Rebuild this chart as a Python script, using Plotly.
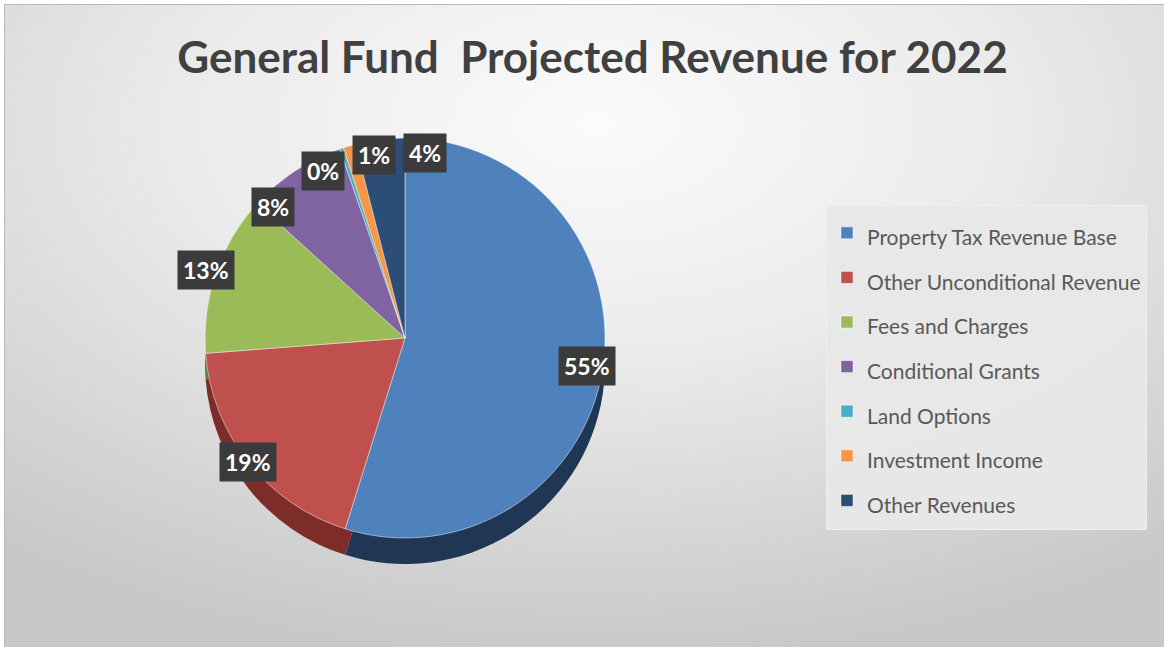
import base64
import math
import plotly.graph_objects as go

# ---- data ----
categories = [
    "Property Tax Revenue Base",
    "Other Unconditional Revenue",
    "Fees and Charges",
    "Conditional Grants",
    "Land Options",
    "Investment Income",
    "Other Revenues",
]
values = [55, 19, 13, 8, 0.3, 1, 4]
title_text = "General Fund  Projected Revenue for 2022"

# ---- style ----
W, H = 1164, 647
top_colors = ["#4f81bd", "#c0504d", "#9bbb59", "#8064a2", "#4bacc6", "#f79646", "#2c4d75"]
side_colors = ["#1f3655", "#7e2c2a", "#627a35", "#4e3a68", "#2a7288", "#a85f26", "#17273d"]
FONT = "Lato"
cx, cy, r = 405, 338, 200          # pie centre / radius in pixels
depth = 26                          # fake 3-D extrusion in pixels

def dom(cx_, cy_):
    return dict(x=[(cx_ - r) / W, (cx_ + r) / W],
                y=[1 - (cy_ + r) / H, 1 - (cy_ - r) / H])

# background gradient + frame as an SVG image
svg = f"""<svg xmlns='http://www.w3.org/2000/svg' width='{W}' height='{H}' viewBox='0 0 {W} {H}' preserveAspectRatio='none'>
<defs><radialGradient id='g' cx='50%' cy='18%' r='80%'>
<stop offset='0' stop-color='#fbfbfb'/><stop offset='0.45' stop-color='#eaeaea'/>
<stop offset='1' stop-color='#c8c8c8'/></radialGradient></defs>
<rect width='{W}' height='{H}' fill='#ffffff'/>
<rect x='4.5' y='4.5' width='{W+20}' height='{H+20}' fill='url(#g)' stroke='#b8b8b8' stroke-width='1'/>
</svg>"""
bg_uri = "data:image/svg+xml;base64," + base64.b64encode(svg.encode()).decode()

fig = go.Figure()
# side (extrusion) pie
fig.add_trace(go.Pie(
    labels=categories, values=values, sort=False, direction="clockwise", rotation=0,
    domain=dom(cx, cy + depth), marker=dict(colors=side_colors, line=dict(width=0)),
    textinfo="none", hoverinfo="skip", showlegend=False,
))
# top pie
fig.add_trace(go.Pie(
    labels=[f"<span style='font-size:21px'>{c}</span>" for c in categories],
    values=values, sort=False, direction="clockwise", rotation=0,
    domain=dom(cx, cy), marker=dict(colors=top_colors, line=dict(color="rgba(255,255,255,0.6)", width=0.8)),
    textinfo="none", hovertemplate="%{label}: %{percent}<extra></extra>", showlegend=True,
))

# ---- data labels (dark boxes) computed from slice angles ----
total = sum(values)
mids, pcts = [], []
acc = 0
for v in values:
    mids.append((acc + v / 2) / total * 360)
    pcts.append(v / total * 100)
    acc += v

def pos(ang, f):
    a = math.radians(ang)
    return cx + f * r * math.sin(a), cy - f * r * math.cos(a)

big = [i for i, p in enumerate(pcts) if p >= 10]
small = [i for i, p in enumerate(pcts) if p < 10]
big_f = {0: 0.92, 1: 1.0, 2: 1.05}
angles = {i: mids[i] for i in small}
BW, BH, RF = 50, 36, 0.93
for _ in range(1000):
    moved = False
    for a_i in range(len(small)):
        for b_i in range(a_i + 1, len(small)):
            i, j = small[a_i], small[b_i]
            xi, yi = pos(angles[i], RF)
            xj, yj = pos(angles[j], RF)
            if abs(xi - xj) < BW and abs(yi - yj) < BH:
                angles[i] -= 0.3
                angles[j] += 0.3
                moved = True
    if not moved:
        break

annotations = []
for i in range(len(values)):
    if i in big:
        x, y = pos(mids[i], big_f.get(i, 0.9))
    else:
        x, y = pos(angles[i], RF)
    annotations.append(dict(
        x=x / W, y=1 - y / H, xref="paper", yref="paper", showarrow=False,
        text=f"<b>{round(pcts[i]):.0f}%</b>", font=dict(family=FONT, size=23, color="#ffffff"),
        bgcolor="#3b3b3b", borderpad=5, xanchor="center", yanchor="middle",
    ))

fig.update_layout(
    width=W, height=H,
    margin=dict(l=0, r=0, t=0, b=0),
    paper_bgcolor="#ffffff",
    images=[dict(source=bg_uri, xref="paper", yref="paper", x=0, y=1, sizex=1, sizey=1,
                 sizing="stretch", xanchor="left", yanchor="top", layer="below")],
    title=dict(text=f"<b>{title_text}</b>", x=0.509, xanchor="center", y=1 - 58 / H, yanchor="middle",
               font=dict(family=FONT, size=44, color="#404040")),
    legend=dict(x=826 / W, y=1 - 367 / H, xanchor="left", yanchor="middle",
                font=dict(family=FONT, size=32, color="#595959"),
                bgcolor="rgba(232,232,232,0.95)", bordercolor="#efefef", borderwidth=1,
                itemclick=False, itemdoubleclick=False, itemwidth=30),
    annotations=annotations,
    font=dict(family=FONT),
)

fig.write_html("out.html", config={"displayModeBar": False},
               post_script="document.body.style.margin='0';")
